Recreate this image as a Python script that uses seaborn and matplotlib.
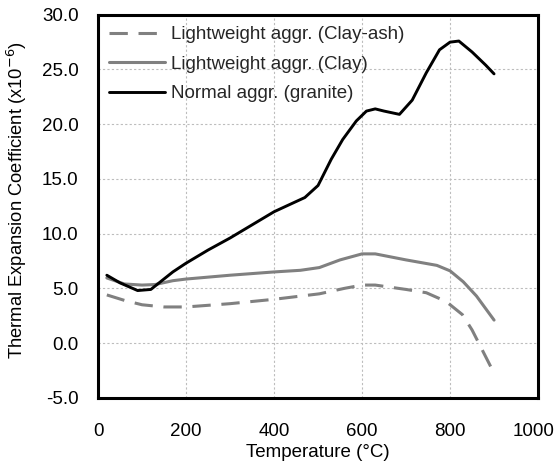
import matplotlib
matplotlib.use("Agg")
import matplotlib.pyplot as plt
import matplotlib.transforms as mtrans
import seaborn as sns
import pandas as pd

# Data
temp_granite = [20, 50, 90, 120, 170, 200, 250, 300, 350, 400, 443, 470, 500, 530, 556, 587, 610, 630, 650, 685, 714, 746, 776, 800, 820, 850, 881, 900]
cte_granite = [6.2, 5.5, 4.8, 4.9, 6.5, 7.3, 8.5, 9.6, 10.8, 12.0, 12.8, 13.3, 14.4, 16.8, 18.6, 20.3, 21.2, 21.4, 21.2, 20.9, 22.2, 24.7, 26.8, 27.5, 27.6, 26.6, 25.4, 24.6]

temp_clay = [20, 60, 100, 130, 170, 200, 300, 400, 460, 503, 550, 600, 630, 700, 770, 800, 830, 860, 900]
cte_clay = [5.95, 5.4, 5.3, 5.35, 5.7, 5.85, 6.2, 6.5, 6.65, 6.9, 7.6, 8.15, 8.15, 7.6, 7.1, 6.6, 5.6, 4.3, 2.1]

temp_clayash = [20, 60, 100, 150, 200, 300, 400, 503, 560, 600, 630, 700, 746, 791, 828, 850, 893]
cte_clayash = [4.4, 3.9, 3.5, 3.3, 3.3, 3.6, 4.0, 4.5, 5.0, 5.3, 5.3, 4.9, 4.6, 3.8, 2.6, 1.2, -2.2]

labels = ["Lightweight aggr. (Clay-ash)", "Lightweight aggr. (Clay)", "Normal aggr. (granite)"]
x_ticks = [0, 200, 400, 600, 800, 1000]
y_ticks = [-5, 0, 5, 10, 15, 20, 25, 30]

sns.set_theme(style="white")
plt.rcParams['font.family'] = ['Liberation Sans', 'DejaVu Sans']

FS = 13.5
fig = plt.figure(figsize=(5.57, 4.62), dpi=100)
ax = fig.add_axes([0.176, 0.139, 0.790, 0.829])

df_ca = pd.DataFrame({"T": temp_clayash, "C": cte_clayash})
df_c = pd.DataFrame({"T": temp_clay, "C": cte_clay})
df_g = pd.DataFrame({"T": temp_granite, "C": cte_granite})

sns.lineplot(data=df_ca, x="T", y="C", ax=ax, color="#808080", lw=2.2, label=labels[0], sort=False)
ax.lines[-1].set_dashes((6, 3.5))
sns.lineplot(data=df_c, x="T", y="C", ax=ax, color="#808080", lw=2.2, label=labels[1], sort=False)
sns.lineplot(data=df_g, x="T", y="C", ax=ax, color="black", lw=2.1, label=labels[2], sort=False)
for ln in ax.lines:
    ln.set_solid_joinstyle("round")
    ln.set_solid_capstyle("round")

ax.set_xlim(0, 1000)
ax.set_ylim(-5, 30)
ax.set_xticks(x_ticks)
ax.set_yticks(y_ticks)
ax.set_yticklabels([f"{v:.1f}" for v in y_ticks])
ax.tick_params(axis="both", length=0, labelsize=FS, labelcolor="black")
ax.tick_params(axis="x", pad=18)
ax.tick_params(axis="y", pad=14)
ax.grid(True, color="#bdbdbd", linestyle=(0, (2, 2)), linewidth=0.8)
for s in ax.spines.values():
    s.set_color("black")
    s.set_linewidth(2.2)

# nudge the last x tick label so it stays inside the figure
last = ax.get_xticklabels()[-1]
last.set_transform(last.get_transform() + mtrans.ScaledTranslation(-4 / 100, 0, fig.dpi_scale_trans))

ax.set_xlabel("Temperature (°C)", fontsize=FS, color="black", labelpad=3)
ax.set_ylabel("Thermal Expansion Coefficient (x10$^{-6}$)", fontsize=13.2, color="black")
ax.yaxis.set_label_coords(-0.158, 0.515)

leg = ax.legend(loc="upper left", bbox_to_anchor=(-0.01, 1.01), frameon=False, fontsize=FS,
                handlelength=3.0, handletextpad=0.3, labelspacing=0.66, borderaxespad=0.4)

fig.savefig("out.png", dpi=100)
